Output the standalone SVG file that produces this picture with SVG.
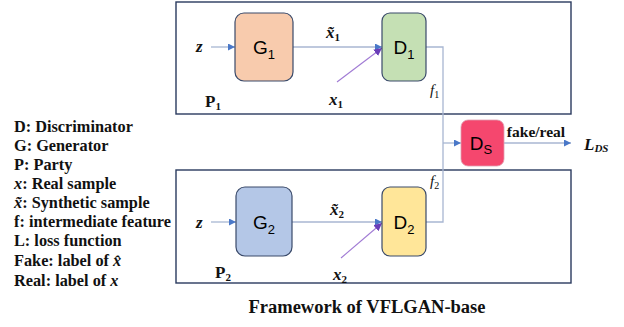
<svg xmlns="http://www.w3.org/2000/svg" width="624" height="327" viewBox="0 0 624 327">
<style>
.frame{fill:none;stroke:#2a3a5e;stroke-width:1.4}
.node{stroke:#3a4a6a;stroke-width:1.2}
.lbl{font-family:"Liberation Sans",Arial,sans-serif;font-size:19px;fill:#000}
.sub{font-size:13px}
.leg{font-family:"Liberation Serif","Times New Roman",serif;font-weight:bold;font-size:16.3px;fill:#111}
.math{font-family:"Liberation Serif","Times New Roman",serif;font-weight:bold;font-style:italic;font-size:17px;fill:#111}
.ms{font-style:normal;font-size:11px}
.mathn{font-family:"Liberation Serif","Times New Roman",serif;font-style:italic;font-size:15px;fill:#111}
.conn{fill:none;stroke:#a8b6d2;stroke-width:1.3}
.purp{fill:none;stroke:#a07ad4;stroke-width:1.1}
</style>
<defs>
<marker id="ab" viewBox="0 0 10 10" refX="10" refY="5" markerWidth="7" markerHeight="7" markerUnits="userSpaceOnUse" orient="auto">
<path d="M0,0 L10,5 L0,10 z" fill="#4a78c8"/>
</marker>
<marker id="ap" viewBox="0 0 10 10" refX="10" refY="5" markerWidth="8" markerHeight="8" markerUnits="userSpaceOnUse" orient="auto">
<path d="M0,0 L10,5 L0,10 z" fill="#6a3db8"/>
</marker>
</defs>

<rect class="frame" x="176" y="2" width="395" height="112"/>
<rect class="frame" x="176" y="170" width="395" height="113"/>

<g id="connectors">
<line class="conn" x1="211" y1="47" x2="235" y2="47" marker-end="url(#ab)"/>
<line class="conn" x1="293" y1="47" x2="382" y2="47" marker-end="url(#ab)"/>
<line class="purp" x1="337" y1="82" x2="382" y2="48" marker-end="url(#ap)"/>
<line class="conn" x1="211" y1="222" x2="236" y2="222" marker-end="url(#ab)"/>
<line class="conn" x1="292" y1="222" x2="382" y2="222" marker-end="url(#ab)"/>
<line class="purp" x1="341" y1="258" x2="382" y2="223" marker-end="url(#ap)"/>
<polyline class="conn" points="426,47 443,47 443,222 426,222"/>
<line class="conn" x1="443" y1="143" x2="461" y2="143" marker-end="url(#ab)"/>
<line class="conn" x1="504" y1="143" x2="571" y2="143" marker-end="url(#ab)"/>
</g>

<g id="G1">
<rect class="node" x="235" y="13" width="58" height="68" rx="9" fill="#f8cbad"/>
<text class="lbl" x="264" y="54" text-anchor="middle">G<tspan class="sub" dy="5">1</tspan></text>
</g>
<g id="D1">
<rect class="node" x="382" y="13" width="44" height="68" rx="8" fill="#c5e0b4"/>
<text class="lbl" x="404" y="54" text-anchor="middle">D<tspan class="sub" dy="5">1</tspan></text>
</g>
<g id="G2">
<rect class="node" x="236" y="187" width="56" height="69" rx="9" fill="#b4c7e7"/>
<text class="lbl" x="264" y="229" text-anchor="middle">G<tspan class="sub" dy="5">2</tspan></text>
</g>
<g id="D2">
<rect class="node" x="382" y="187" width="44" height="69" rx="8" fill="#ffe699"/>
<text class="lbl" x="404" y="229" text-anchor="middle">D<tspan class="sub" dy="5">2</tspan></text>
</g>
<g id="Ds">
<rect x="461" y="120" width="43" height="46" rx="7" fill="#f5476e" stroke="#e0a0b0" stroke-width="0.8"/>
<text class="lbl" x="481" y="150" text-anchor="middle">D<tspan class="sub" dy="4">S</tspan></text>
</g>

<g id="labels">
<text class="math" x="196" y="52">z</text>
<text class="math" x="196" y="228">z</text>
<text class="math" x="326" y="38">x̃<tspan class="ms" dy="3">1</tspan></text>
<text class="math" x="329" y="105">x<tspan class="ms" dy="3">1</tspan></text>
<text class="math" x="330" y="215">x̃<tspan class="ms" dy="3">2</tspan></text>
<text class="math" x="333" y="280">x<tspan class="ms" dy="3">2</tspan></text>
<text class="leg" x="205" y="107" style="font-size:17px">P<tspan style="font-size:11px" dy="3">1</tspan></text>
<text class="leg" x="215" y="278" style="font-size:17px">P<tspan style="font-size:11px" dy="3">2</tspan></text>
<text class="mathn" x="430" y="95">f<tspan style="font-size:10px;font-style:normal" dy="3">1</tspan></text>
<text class="mathn" x="430" y="186">f<tspan style="font-size:10px;font-style:normal" dy="3">2</tspan></text>
<text class="leg" x="536" y="137" text-anchor="middle" style="font-size:15.5px">fake/real</text>
<text class="math" x="584" y="150">L<tspan style="font-size:11px" dy="2">DS</tspan></text>
</g>

<g id="legend">
<text class="leg" x="14" y="132">D: Discriminator</text>
<text class="leg" x="14" y="151">G: Generator</text>
<text class="leg" x="14" y="170">P: Party</text>
<text class="leg" x="14" y="189"><tspan style="font-style:italic">x</tspan>: Real sample</text>
<text class="leg" x="14" y="208"><tspan style="font-style:italic">x̃</tspan>: Synthetic sample</text>
<text class="leg" x="14" y="227">f: intermediate feature</text>
<text class="leg" x="14" y="246">L: loss function</text>
<text class="leg" x="14" y="266">Fake: label of <tspan style="font-style:italic">x̂</tspan></text>
<text class="leg" x="14" y="286">Real: label of <tspan style="font-style:italic">x</tspan></text>
</g>

<text class="leg" x="367" y="313" text-anchor="middle" style="font-size:18.5px">Framework of VFLGAN-base</text>
</svg>
